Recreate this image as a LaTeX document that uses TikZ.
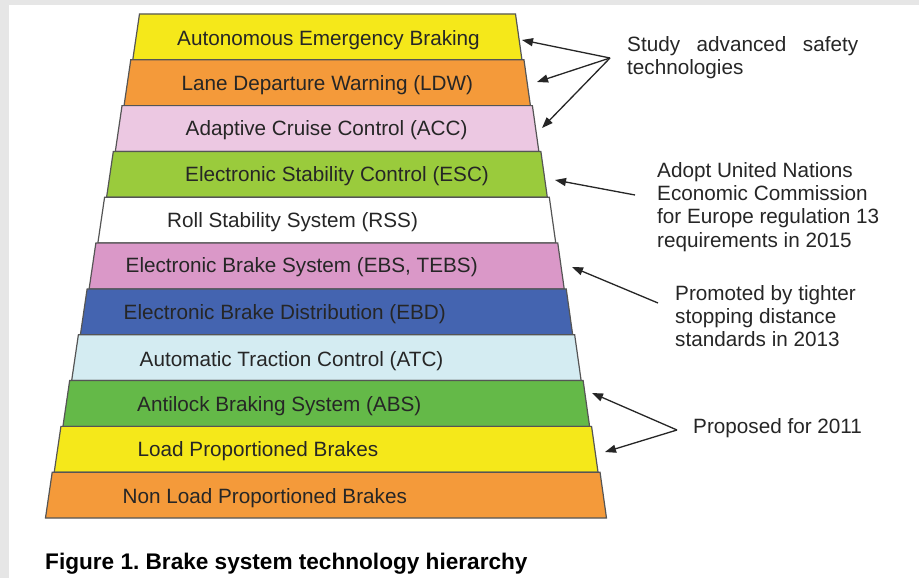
\documentclass[tikz,border=0pt]{standalone}
\usepackage{fontspec}
\setmainfont{Liberation Sans}
\usetikzlibrary{arrows.meta}
\definecolor{frame}{HTML}{E6E6E6}
\definecolor{cyel}{HTML}{F5E81A}
\definecolor{corg}{HTML}{F49A3A}
\definecolor{cpnkl}{HTML}{ECC8E2}
\definecolor{cgrnl}{HTML}{9ACB3C}
\definecolor{cpnk}{HTML}{DA98C8}
\definecolor{cblu}{HTML}{4464B0}
\definecolor{ccyan}{HTML}{D4ECF2}
\definecolor{cgrn}{HTML}{64B948}
\definecolor{edge}{HTML}{555555}
\definecolor{ink}{HTML}{262626}
\tikzset{
  layer/.style={draw=edge, line width=1.2pt, line join=miter},
  lbl/.style={anchor=base west, inner sep=0pt, text=ink, font=\fontsize{20.7}{24}\selectfont},
  note/.style={anchor=north west, inner sep=0pt, text=ink, align=left, font=\fontsize{20.7}{23.3}\selectfont},
  captext/.style={anchor=base west, inner sep=0pt, text=black, font=\fontsize{22.6}{26}\selectfont\bfseries},
  pointer/.style={draw=ink, line width=1.3pt, -{Triangle[length=11pt,width=8pt]}},
}
\begin{document}
\begin{tikzpicture}[x=1pt,y=-1pt]
\useasboundingbox (0,0) rectangle (919,578);
\fill[white] (0,0) rectangle (919,578);
\fill[frame] (0,0) rectangle (919,5);
\fill[frame] (0,0) rectangle (9,578);
\foreach \i/\col in {0/cyel,1/corg,2/cpnkl,3/cgrnl,4/white,5/cpnk,6/cblu,7/ccyan,8/cgrn,9/cyel,10/corg}{
  \pgfmathsetmacro\ya{14+45.818*\i}
  \pgfmathsetmacro\yb{14+45.818*(\i+1)}
  \pgfmathsetmacro\la{141-0.1905*(\ya-14)-1.5}
  \pgfmathsetmacro\lb{141-0.1905*(\yb-14)+0.5}
  \pgfmathsetmacro\ra{514+0.1845*(\ya-14)+1.5}
  \pgfmathsetmacro\rb{514+0.1845*(\yb-14)-0.5}
  \filldraw[layer, fill=\col] (\la,\ya) -- (\ra,\ya) -- (\rb,\yb) -- (\lb,\yb) -- cycle;
}
\node[lbl] (aeb) at (177,46) {Autonomous Emergency Braking};
\node[lbl] (ldw) at (181.5,90.5) {Lane Departure Warning (LDW)};
\node[lbl] (acc) at (185.5,135.5) {Adaptive Cruise Control (ACC)};
\node[lbl] (esc) at (185,181) {Electronic Stability Control (ESC)};
\node[lbl] (rss) at (167,227) {Roll Stability System (RSS)};
\node[lbl] (ebs) at (125.5,272) {Electronic Brake System (EBS, TEBS)};
\node[lbl] (ebd) at (123.5,319) {Electronic Brake Distribution (EBD)};
\node[lbl] (atc) at (139.5,366) {Automatic Traction Control (ATC)};
\node[lbl] (abs) at (137,411) {Antilock Braking System (ABS)};
\node[lbl] (lpb) at (137.5,456) {Load Proportioned Brakes};
\node[lbl] (nlpb) at (122.5,503) {Non Load Proportioned Brakes};

\node[note] (study) at (627,36) {\makebox[231pt][s]{Study advanced safety}\\technologies};
\node[note] (unece) at (657,162) {Adopt United Nations\\Economic Commission\\for Europe regulation 13\\requirements in 2015};
\node[note] (stop) at (675,285) {Promoted by tighter\\stopping distance\\standards in 2013};
\node[note] (prop) at (693,418) {Proposed for 2011};

\coordinate (jS) at (610,58);
\coordinate (tAEB) at (522,40);
\coordinate (tLDW) at (537,82);
\coordinate (tACC) at (542,128);
\coordinate (sESC) at (635,195);
\coordinate (tESC) at (555,180);
\coordinate (sEBS) at (658,303);
\coordinate (tEBS) at (572,267);
\coordinate (jP) at (677,430);
\coordinate (tABS) at (592,393);
\coordinate (tLPB) at (605,452);

\draw[pointer] (jS) -- (tAEB);
\draw[pointer] (jS) -- (tLDW);
\draw[pointer] (jS) -- (tACC);
\draw[pointer] (sESC) -- (tESC);
\draw[pointer] (sEBS) -- (tEBS);
\draw[pointer] (jP) -- (tABS);
\draw[pointer] (jP) -- (tLPB);

\node[captext] (caption) at (45,569) {Figure 1.\ Brake system technology hierarchy};
\end{tikzpicture}
\end{document}
